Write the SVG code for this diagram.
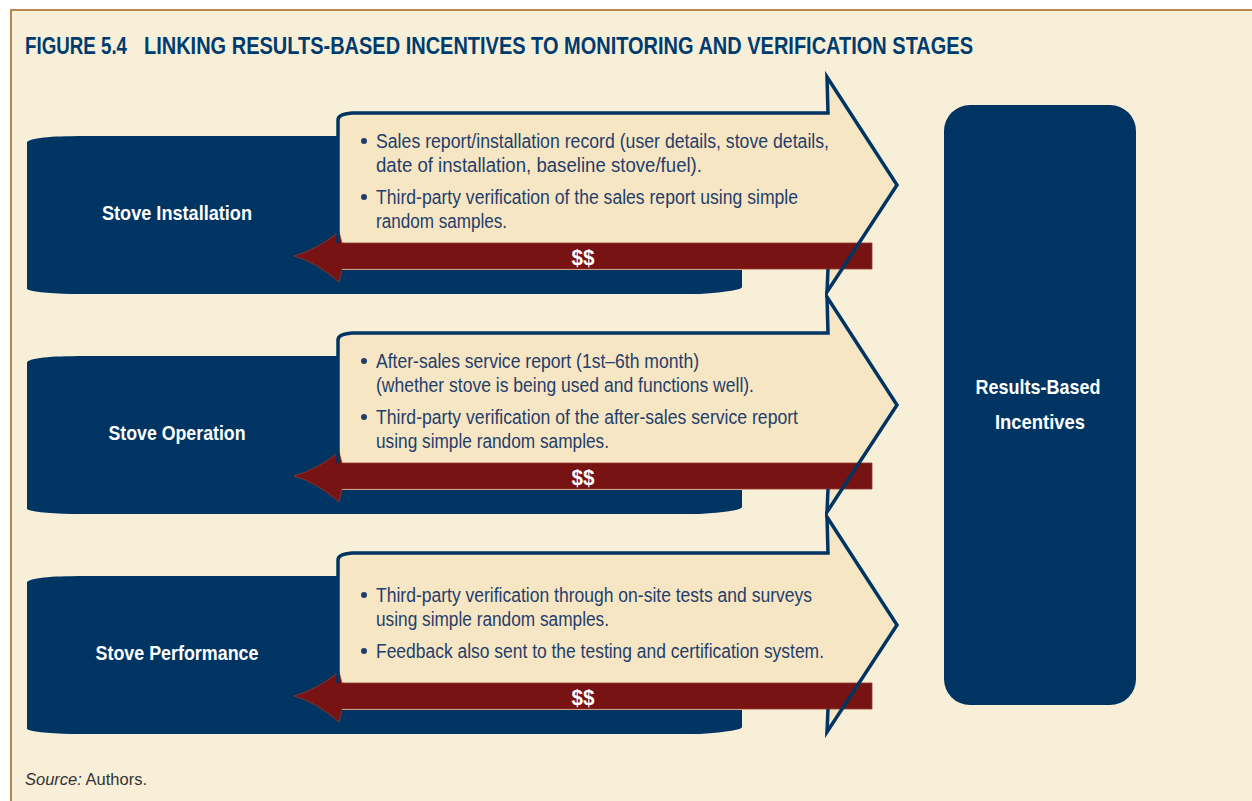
<svg xmlns="http://www.w3.org/2000/svg" width="1252" height="801" viewBox="0 0 1252 801">
<defs>
<style>
.bg{fill:#F8EFD9}
.frame{stroke:#B8864F;stroke-width:2;fill:none}
.band{fill:#003563}
.boxfill{fill:#F7E6C3}
.boxline{fill:none;stroke:#003563;stroke-width:3.5;stroke-linejoin:miter;stroke-miterlimit:10}
.red{fill:#781314;stroke:#8E3A2E;stroke-width:0.8}
.title{font-family:"Liberation Sans",Arial,sans-serif;font-weight:bold;font-size:24px;fill:#003B6E}
.stage{font-family:"Liberation Sans",Arial,sans-serif;font-weight:bold;font-size:21px;fill:#FFFFFF}
.body{font-family:"Liberation Sans",Arial,sans-serif;font-size:20px;fill:#1F3E6B}
.dollar{font-family:"Liberation Sans",Arial,sans-serif;font-weight:bold;font-size:22px;fill:#FFFFFF}
.bullet{fill:#1F3E6B}
.src{font-family:"Liberation Sans",Arial,sans-serif;font-size:16.5px;fill:#333333}
</style>
<path id="bandShape" d="M27,142 C33,137 55,136 90,136 L742,136 L742,287 Q742,291 700,294 L72,294 Q32,293 27,289 Z"/>
<path id="boxFill" d="M338,120 Q338,114 352,113 L828,113 L827,77 L897,185 L827,292 L828,270 L338,270 Z"/>
<path id="boxLine" d="M338,243 L338,120 Q338,114 352,113 L828,113 L827,77 L897,185 L827,292 L828,269"/>
<path id="redArrow" d="M872,243 L342,243 L339,232 Q316,250 294,256 Q316,262 339,282 L342,269 L872,269 Z"/>
</defs>

<rect x="0" y="0" width="1252" height="801" fill="#FFFFFF"/>
<rect class="bg" x="11" y="10" width="1241" height="791"/>
<path class="frame" d="M11,801 L11,10 L1252,10"/>

<g id="title">
<text class="title" x="25" y="54" textLength="102" lengthAdjust="spacingAndGlyphs">FIGURE 5.4</text>
<text class="title" x="144" y="54" textLength="829" lengthAdjust="spacingAndGlyphs">LINKING RESULTS-BASED INCENTIVES TO MONITORING AND VERIFICATION STAGES</text>
</g>

<g id="stage-installation">
<use href="#bandShape" class="band"/>
<use href="#boxFill" class="boxfill"/>
<text class="stage" x="177" y="220" text-anchor="middle" textLength="150" lengthAdjust="spacingAndGlyphs">Stove Installation</text>
</g>
<g id="stage-operation" transform="translate(0,220)">
<use href="#bandShape" class="band"/>
<use href="#boxFill" class="boxfill"/>
<text class="stage" x="177" y="220" text-anchor="middle" textLength="137" lengthAdjust="spacingAndGlyphs">Stove Operation</text>
</g>
<g id="stage-performance" transform="translate(0,440)">
<use href="#bandShape" class="band"/>
<use href="#boxFill" class="boxfill"/>
<text class="stage" x="177" y="220" text-anchor="middle" textLength="163" lengthAdjust="spacingAndGlyphs">Stove Performance</text>
</g>

<g id="results-based-incentives">
<rect class="band" x="944" y="105" width="192" height="600" rx="26" ry="26"/>
<text class="stage" x="1038" y="394" text-anchor="middle" textLength="125" lengthAdjust="spacingAndGlyphs">Results-Based</text>
<text class="stage" x="1040" y="429" text-anchor="middle" textLength="90" lengthAdjust="spacingAndGlyphs">Incentives</text>
</g>

<g id="connectors">
<use href="#redArrow" class="red"/>
<use href="#redArrow" class="red" transform="translate(0,220)"/>
<use href="#redArrow" class="red" transform="translate(0,440)"/>
<text class="dollar" x="583" y="265" text-anchor="middle" textLength="23" lengthAdjust="spacingAndGlyphs">$$</text>
<text class="dollar" x="583" y="485" text-anchor="middle" textLength="23" lengthAdjust="spacingAndGlyphs">$$</text>
<text class="dollar" x="583" y="705" text-anchor="middle" textLength="23" lengthAdjust="spacingAndGlyphs">$$</text>
</g>

<g id="box-installation">
<use href="#boxLine" class="boxline"/>
<circle class="bullet" cx="364" cy="141" r="3"/>
<circle class="bullet" cx="364" cy="197" r="3"/>
<text class="body" x="376" y="148" textLength="453" lengthAdjust="spacingAndGlyphs">Sales report/installation record (user details, stove details,</text>
<text class="body" x="376" y="172" textLength="326" lengthAdjust="spacingAndGlyphs">date of installation, baseline stove/fuel).</text>
<text class="body" x="376" y="204" textLength="422" lengthAdjust="spacingAndGlyphs">Third-party verification of the sales report using simple</text>
<text class="body" x="376" y="228" textLength="131" lengthAdjust="spacingAndGlyphs">random samples.</text>
</g>

<g id="box-operation">
<use href="#boxLine" class="boxline" transform="translate(0,220)"/>
<circle class="bullet" cx="364" cy="361" r="3"/>
<circle class="bullet" cx="364" cy="417" r="3"/>
<text class="body" x="376" y="368" textLength="323" lengthAdjust="spacingAndGlyphs">After-sales service report (1st–6th month)</text>
<text class="body" x="376" y="392" textLength="378" lengthAdjust="spacingAndGlyphs">(whether stove is being used and functions well).</text>
<text class="body" x="376" y="424" textLength="422" lengthAdjust="spacingAndGlyphs">Third-party verification of the after-sales service report</text>
<text class="body" x="376" y="448" textLength="233" lengthAdjust="spacingAndGlyphs">using simple random samples.</text>
</g>

<g id="box-performance">
<use href="#boxLine" class="boxline" transform="translate(0,440)"/>
<circle class="bullet" cx="364" cy="595" r="3"/>
<circle class="bullet" cx="364" cy="651" r="3"/>
<text class="body" x="376" y="602" textLength="436" lengthAdjust="spacingAndGlyphs">Third-party verification through on-site tests and surveys</text>
<text class="body" x="376" y="626" textLength="233" lengthAdjust="spacingAndGlyphs">using simple random samples.</text>
<text class="body" x="376" y="658" textLength="448" lengthAdjust="spacingAndGlyphs">Feedback also sent to the testing and certification system.</text>
</g>

<g id="source">
<text class="src" x="25" y="785"><tspan font-style="italic">Source:</tspan> Authors.</text>
</g>
</svg>
